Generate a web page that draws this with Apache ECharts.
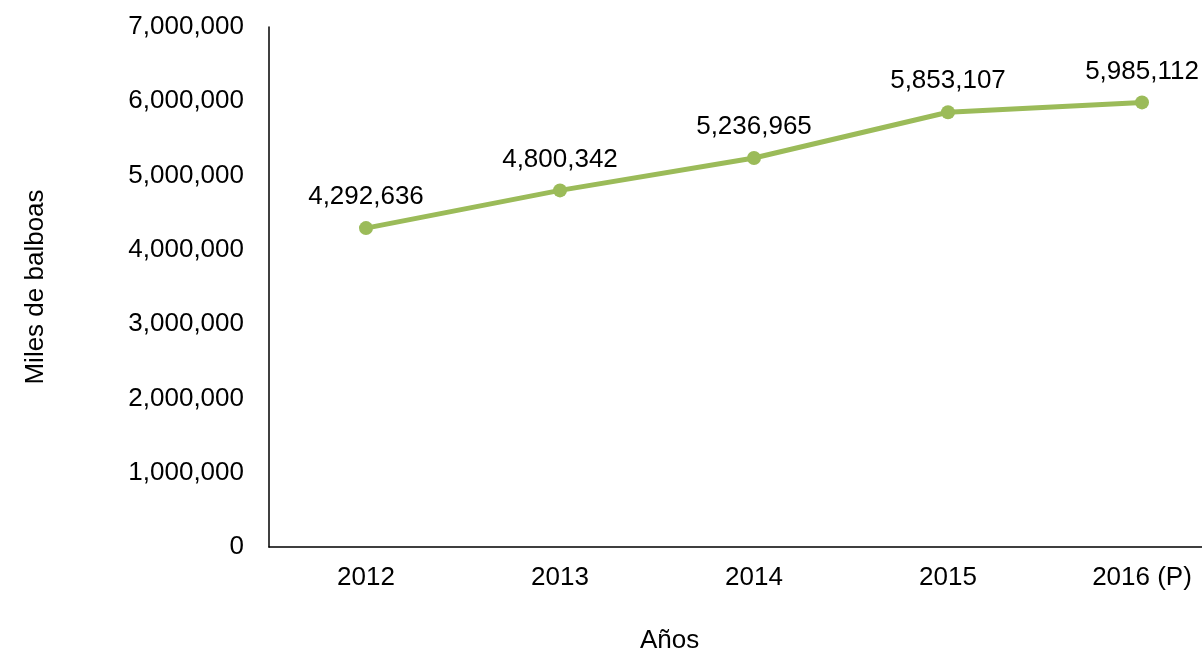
<!DOCTYPE html>
<html><head><meta charset="utf-8">
<script src="https://cdn.jsdelivr.net/npm/echarts@6/dist/echarts.min.js"></script>
<style>html,body{margin:0;padding:0;background:#fff;overflow:hidden}#c{width:1239px;height:653px}</style>
</head><body><div id="c"></div>
<script>
const categories = ['2012', '2013', '2014', '2015', '2016 (P)'];
const values = [4292636, 4800342, 5236965, 5853107, 5985112];
const yTicks = { min: 0, max: 7000000, interval: 1000000 };
const yName = 'Miles de balboas';
const xName = 'Años';

const fmt = v => Math.round(v).toString().replace(/\B(?=(\d{3})+(?!\d))/g, ',');
const font = 'Liberation Sans, Arial, sans-serif';
const fs = 26;
const chart = echarts.init(document.getElementById('c'));
chart.setOption({
  animation: false,
  grid: { left: 269, right: 0, top: 27, bottom: 106, containLabel: false },
  graphic: [{
    type: 'text', left: 668 - 28, top: 628,
    style: { text: xName, font: fs + 'px ' + font, fill: '#000' }
  }],
  xAxis: {
    type: 'category', data: categories, boundaryGap: true,
    axisLine: { lineStyle: { color: '#000', width: 1.5 } },
    axisTick: { show: false },
    axisLabel: { fontFamily: font, fontSize: fs, color: '#000', margin: 18 },
    splitLine: { show: false }
  },
  yAxis: {
    type: 'value', min: yTicks.min, max: yTicks.max, interval: yTicks.interval,
    name: yName, nameLocation: 'middle', nameGap: 220, nameRotate: 90,
    nameTextStyle: { fontFamily: font, fontSize: fs, color: '#000' },
    axisLine: { show: true, lineStyle: { color: '#000', width: 1.5 } },
    axisTick: { show: false },
    axisLabel: { fontFamily: font, fontSize: fs, color: '#000', margin: 25, formatter: fmt },
    splitLine: { show: false }
  },
  series: [{
    type: 'line', data: values,
    symbol: 'circle', symbolSize: 14,
    lineStyle: { color: '#9BBB59', width: 5 },
    itemStyle: { color: '#9BBB59' },
    label: { show: true, position: 'top', distance: 11, fontFamily: font, fontSize: fs, color: '#000', formatter: p => fmt(p.value) }
  }]
});
</script></body></html>
